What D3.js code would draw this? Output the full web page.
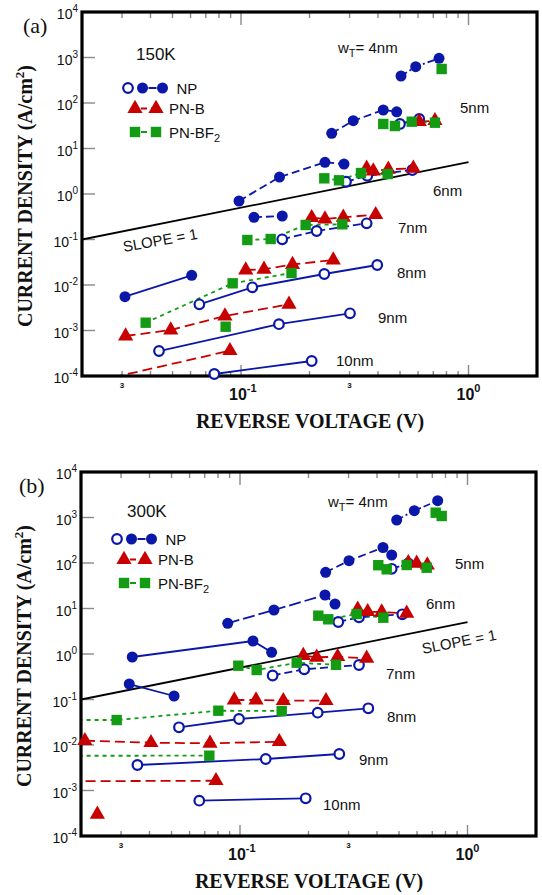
<!DOCTYPE html>
<html>
<head>
<meta charset="utf-8">
<script src="https://cdn.jsdelivr.net/npm/d3@7"></script>
<style>
  body { margin: 0; background: #fff; }
  svg { display: block; }
</style>
</head>
<body>
<script>
// ---------------- data ----------------
// Reverse voltage (V) vs current density (A/cm^2), grouped by tunnel width wT.
const xMajorTicks = [0.1, 1];
const xMinorTicks = [0.03, 0.04, 0.05, 0.06, 0.07, 0.08, 0.09, 0.2, 0.3, 0.4, 0.5, 0.6, 0.7, 0.8, 0.9];
const xSmallLabels = [0.03, 0.3];
const yExponents = [-4, -3, -2, -1, 0, 1, 2, 3, 4];
const gapLabels = ["4nm", "5nm", "6nm", "7nm", "8nm", "9nm", "10nm"];
const seriesNames = ["NP", "PN-B", "PN-BF"];
const slopeLine = [[0.02, 0.1], [1, 5]];

// panel (a): 150K
const npA = [
  { open: false, dash: "dashdot", pts: [[0.505, 392], [0.586, 628], [0.742, 960]] },
  { open: false, dash: "dash", pts: [[0.2504, 21.6], [0.3114, 40.8], [0.422, 70.2], [0.4834, 64.1]] },
  { open: true, dash: "dash", pts: [[0.4996, 34.6], [0.6074, 44.5]] },
  { open: false, dash: "dash", pts: [[0.098, 0.702], [0.1476, 2.36], [0.2339, 4.97], [0.2836, 4.56]] },
  { open: true, dash: "dash", pts: [[0.2894, 1.86], [0.359, 2.52], [0.566, 3.37]] },
  { open: false, dash: "dash", pts: [[0.114, 0.3075], [0.1518, 0.3285]] },
  { open: true, dash: "dash", pts: [[0.1518, 0.101], [0.215, 0.1537], [0.3567, 0.227]] },
  { open: false, dash: "solid", pts: [[0.0309, 0.00553], [0.0607, 0.01633]] },
  { open: true, dash: "solid", pts: [[0.0656, 0.003765], [0.1121, 0.0089], [0.2323, 0.01745], [0.397, 0.0275]] },
  { open: true, dash: "solid", pts: [[0.0436, 0.000354], [0.1468, 0.001376], [0.3013, 0.002388]] },
  { open: true, dash: "solid", pts: [[0.0763, 0.0001107], [0.2045, 0.0002136]] }
];
const pnbA = [
  [[0.6074, 38.8], [0.712, 40.8]],
  [[0.3567, 3.67], [0.3814, 3.20], [0.444, 3.49], [0.5721, 3.67]],
  [[0.2045, 0.3013], [0.2339, 0.2821], [0.2816, 0.3075], [0.3908, 0.3509]],
  [[0.1049, 0.02137], [0.1262, 0.02214], [0.1684, 0.0282], [0.2544, 0.0354]],
  [[0.0311, 0.000757], [0.0491, 0.001026], [0.085, 0.002083], [0.1625, 0.003765]],
  [[0.0204, 0.0000667], [0.0894, 0.00036]]
];
const bf2A = [
  [[0.762, 559]],
  [[0.422, 34.6], [0.475, 31.2], [0.5627, 38.8], [0.712, 36.9]],
  [[0.2323, 2.21], [0.2696, 2.00], [0.3368, 2.89], [0.4413, 2.75]],
  [[0.1066, 0.0975], [0.135, 0.1026], [0.1924, 0.2084], [0.2787, 0.2159]],
  [[0.0381, 0.001484], [0.0919, 0.0109], [0.1667, 0.01835]],
  [[0.0856, 0.001212]]
];

// panel (b): 300K
const npB = [
  { open: false, dash: "dashdot", pts: [[0.4884, 881], [0.5836, 1411], [0.7395, 2340]] },
  { open: false, dash: "dash", pts: [[0.2379, 62.5], [0.3013, 112.3], [0.4251, 219], [0.4642, 150]] },
  { open: true, dash: "dash", pts: [[0.4642, 74.6], [0.5492, 98.5]] },
  { open: false, dash: "longdash", pts: [[0.0883, 4.73], [0.141, 9.27], [0.2363, 19.8], [0.2616, 12.56]] },
  { open: true, dash: "dash", pts: [[0.2704, 5.05], [0.3334, 6.41], [0.5168, 7.46]] },
  { open: false, dash: "solid", pts: [[0.0336, 0.859], [0.114, 1.93], [0.1377, 1.09]] },
  { open: false, dash: "solid", pts: [[0.0326, 0.219], [0.0513, 0.1194]] },
  { open: true, dash: "dash", pts: [[0.1391, 0.337], [0.1916, 0.461], [0.3334, 0.573]] },
  { open: true, dash: "solid", pts: [[0.0539, 0.0245], [0.099, 0.0373], [0.2195, 0.0513], [0.3664, 0.0641]] },
  { open: true, dash: "solid", pts: [[0.0354, 0.00363], [0.1297, 0.00492], [0.2732, 0.00634]] },
  { open: true, dash: "solid", pts: [[0.0662, 0.000597], [0.1944, 0.000674]] }
];
const pnbB = [
  [[0.5492, 101.5], [0.5977, 98.5], [0.6656, 90.4]],
  [[0.3291, 9.6], [0.3641, 8.5], [0.4196, 8.38], [0.5404, 7.84]],
  [[0.1897, 0.927], [0.2173, 0.846], [0.2687, 0.872], [0.3603, 0.804]],
  [[0.0944, 0.0975], [0.1176, 0.0975], [0.155, 0.0941], [0.2387, 0.0941]],
  [[0.0208, 0.01243], [0.0406, 0.01123], [0.0738, 0.0109], [0.1488, 0.01182]],
  [[0.018, 0.0016], [0.0784, 0.00164]],
  [[0.0236, 0.0003]]
];
const bf2B = [
  [[0.7247, 1275], [0.77, 1079]],
  [[0.4053, 89.4], [0.4413, 72.7], [0.5404, 90.4], [0.6616, 78.8]],
  [[0.2209, 6.95], [0.2443, 5.79], [0.3257, 7.57], [0.4264, 6.28]],
  [[0.0983, 0.553], [0.1184, 0.445], [0.1775, 0.644], [0.2642, 0.579]],
  [[0.018, 0.0354], [0.0287, 0.0354], [0.0803, 0.0567], [0.1525, 0.0559]],
  [[0.018, 0.0058], [0.0733, 0.00582]]
];

// ---------------- styling / layout ----------------
const BLUE = "#0b17a8", RED = "#c80000", GREEN = "#139b13";
const DASHES = { solid: null, dash: "8,4", longdash: "12,4", dashdot: "7,3,2,3", pnb: "10,5", bf2: "4,4" };
const SANS = "'Liberation Sans', Arial, sans-serif";
const SERIF = "'Liberation Serif', 'Times New Roman', serif";
const frame = { left: 82, right: 537, top: 12, bottom: 376 };
const xDomain = [0.02, 2], yDomain = [1e-4, 1e4];

const panels = [
  {
    id: "a", temp: "150K", dx: 0, dy: 0, np: npA, pnb: pnbA, bf2: bf2A,
    tag: [23, 33], tempPos: [136, 60], legend: [128, 88],
    gapPos: [[338, 53], [460, 113], [433, 196], [398, 233], [397, 278], [378, 323], [336, 366]],
    slopePos: [124, 252, -10]
  },
  {
    id: "b", temp: "300K", dx: -1, dy: 460, np: npB, pnb: pnbB, bf2: bf2B,
    tag: [20, 33], tempPos: [128, 57], legend: [118, 79],
    gapPos: [[329, 47], [456, 109], [427, 149], [387, 219], [388, 262], [360, 305], [324, 350]],
    slopePos: [424, 194, -11]
  }
];

const svg = d3.select("body").append("svg").attr("width", 542).attr("height", 895);

function drawMarker(sel, kind, open, cx, cy) {
  if (kind === "NP") {
    sel.append("circle").attr("cx", cx).attr("cy", cy)
      .attr("r", open ? 4.8 : 5.5)
      .attr("fill", open ? "#fff" : BLUE)
      .attr("stroke", open ? BLUE : "none")
      .attr("stroke-width", open ? 2.2 : 0);
  } else if (kind === "PN-B") {
    sel.append("path").attr("d", d3.symbol(d3.symbolTriangle, 100)())
      .attr("transform", `translate(${cx},${cy})`).attr("fill", RED);
  } else {
    sel.append("rect").attr("x", cx - 5.2).attr("y", cy - 5.2)
      .attr("width", 10.4).attr("height", 10.4).attr("fill", GREEN);
  }
}

function drawPanel(p) {
  const g = svg.append("g").attr("transform", `translate(${p.dx},${p.dy})`);
  const x = d3.scaleLog().domain(xDomain).range([frame.left, frame.right]);
  const y = d3.scaleLog().domain(yDomain).range([frame.bottom, frame.top]);
  const inDomain = d => d[0] >= xDomain[0] && d[0] <= xDomain[1] && d[1] >= yDomain[0] && d[1] <= yDomain[1];

  const clipId = "clip-" + p.id;
  g.append("clipPath").attr("id", clipId).append("rect")
    .attr("x", frame.left).attr("y", frame.top)
    .attr("width", frame.right - frame.left).attr("height", frame.bottom - frame.top);

  // inner ticks
  const ticks = g.append("g").attr("stroke", "#8a8a8a").attr("stroke-width", 1.4);
  yExponents.slice(1, -1).forEach(e => {
    ticks.append("line").attr("x1", frame.left).attr("x2", frame.left + 13)
      .attr("y1", y(Math.pow(10, e))).attr("y2", y(Math.pow(10, e)));
  });
  xMinorTicks.forEach(v => {
    ticks.append("line").attr("x1", x(v)).attr("x2", x(v)).attr("y1", frame.top).attr("y2", frame.top + 6);
    ticks.append("line").attr("x1", x(v)).attr("x2", x(v)).attr("y1", frame.bottom).attr("y2", frame.bottom - 5);
  });
  xMajorTicks.forEach(v => {
    ticks.append("line").attr("x1", x(v)).attr("x2", x(v)).attr("y1", frame.top).attr("y2", frame.top + 13);
    ticks.append("line").attr("x1", x(v)).attr("x2", x(v)).attr("y1", frame.bottom).attr("y2", frame.bottom - 11);
  });

  const line = d3.line().x(d => x(d[0])).y(d => y(d[1]));
  const lines = g.append("g").attr("clip-path", `url(#${clipId})`).attr("fill", "none");

  // slope = 1 reference
  lines.append("path").attr("d", line(slopeLine)).attr("stroke", "#000").attr("stroke-width", 1.8);

  p.np.forEach(s => {
    if (s.pts.length > 1)
      lines.append("path").attr("d", line(s.pts)).attr("stroke", BLUE).attr("stroke-width", 1.8)
        .attr("stroke-dasharray", DASHES[s.dash]);
  });
  p.pnb.forEach(s => {
    if (s.length > 1)
      lines.append("path").attr("d", line(s)).attr("stroke", RED).attr("stroke-width", 1.8)
        .attr("stroke-dasharray", DASHES.pnb);
  });
  p.bf2.forEach(s => {
    if (s.length > 1)
      lines.append("path").attr("d", line(s)).attr("stroke", GREEN).attr("stroke-width", 1.8)
        .attr("stroke-dasharray", DASHES.bf2);
  });

  // frame
  g.append("rect").attr("x", frame.left).attr("y", frame.top)
    .attr("width", frame.right - frame.left).attr("height", frame.bottom - frame.top)
    .attr("fill", "none").attr("stroke", "#000").attr("stroke-width", 3.2);

  // markers
  const marks = g.append("g");
  p.np.forEach(s => s.pts.filter(inDomain).forEach(d => drawMarker(marks, "NP", s.open, x(d[0]), y(d[1]))));
  p.pnb.forEach(s => s.filter(inDomain).forEach(d => drawMarker(marks, "PN-B", false, x(d[0]), y(d[1]))));
  p.bf2.forEach(s => s.filter(inDomain).forEach(d => drawMarker(marks, "PN-BF", false, x(d[0]), y(d[1]))));

  // y tick labels
  yExponents.forEach(e => {
    const t = g.append("text").attr("x", frame.left - 4).attr("y", y(Math.pow(10, e)) + 7)
      .attr("text-anchor", "end").attr("font-family", SANS).attr("font-size", 14).attr("fill", "#111");
    t.append("tspan").text("10");
    t.append("tspan").attr("dy", -7).attr("font-size", 10).text(String(e));
  });

  // x tick labels
  xMajorTicks.forEach(v => {
    const e = Math.round(Math.log10(v));
    const t = g.append("text").attr("x", x(v) - 12).attr("y", frame.bottom + 24)
      .attr("font-family", SANS).attr("font-weight", "bold").attr("font-size", 16).attr("fill", "#111");
    t.append("tspan").text("10");
    t.append("tspan").attr("dy", -8).attr("font-size", 11).text(String(e));
  });
  xSmallLabels.forEach(v => {
    g.append("text").attr("x", x(v)).attr("y", frame.bottom + 12).attr("text-anchor", "middle")
      .attr("font-family", SANS).attr("font-weight", "bold").attr("font-size", 8).attr("fill", "#111")
      .text(String(v).slice(-1));
  });

  // axis titles
  g.append("text").attr("x", 310).attr("y", frame.bottom + 52).attr("text-anchor", "middle")
    .attr("font-family", SERIF).attr("font-weight", "bold").attr("font-size", 20).attr("fill", "#111")
    .text("REVERSE VOLTAGE (V)");
  const yt = g.append("text").attr("transform", "translate(32,196) rotate(-90)").attr("text-anchor", "middle")
    .attr("font-family", SERIF).attr("font-weight", "bold").attr("font-size", 20).attr("fill", "#111");
  yt.append("tspan").text("CURRENT DENSITY (A/cm");
  yt.append("tspan").attr("dy", -8).attr("font-size", 13).text("2");
  yt.append("tspan").attr("dy", 8).text(")");

  // panel tag and temperature
  g.append("text").attr("x", p.tag[0]).attr("y", p.tag[1]).attr("font-family", SERIF)
    .attr("font-size", 22).attr("fill", "#111").text(`(${p.id})`);
  g.append("text").attr("x", p.tempPos[0]).attr("y", p.tempPos[1]).attr("font-family", SANS)
    .attr("font-size", 17).attr("fill", "#111").text(p.temp);

  // legend
  const [lx, ly] = p.legend;
  const lg = g.append("g");
  const rows = [
    { kind: "NP", color: BLUE, dash: DASHES.dash, y: ly },
    { kind: "PN-B", color: RED, dash: "6,4", y: ly + 20.5 },
    { kind: "PN-BF", color: GREEN, dash: "6,4", y: ly + 44 }
  ];
  rows.forEach((r, i) => {
    const a = r.kind === "NP" ? lx + 14.5 : lx + 7;
    const b = r.kind === "NP" ? lx + 34.5 : lx + 28;
    lg.append("line").attr("x1", a).attr("x2", b).attr("y1", r.y).attr("y2", r.y)
      .attr("stroke", r.color).attr("stroke-width", 1.8).attr("stroke-dasharray", r.dash)
      .attr("stroke-dashoffset", -6);
    if (r.kind === "NP") drawMarker(lg, "NP", true, lx, r.y);
    drawMarker(lg, r.kind, false, a, r.y);
    drawMarker(lg, r.kind, false, b, r.y);
    const t = lg.append("text").attr("x", r.kind === "NP" ? lx + 48.5 : lx + 41).attr("y", r.y + 5.5)
      .attr("font-family", SANS).attr("font-size", 15).attr("fill", "#111");
    t.append("tspan").text(seriesNames[i]);
    if (r.kind === "PN-BF") t.append("tspan").attr("dy", 4).attr("font-size", 11).text("2");
  });

  // tunnel-width annotations
  gapLabels.forEach((lab, i) => {
    const [tx, ty] = p.gapPos[i];
    const t = g.append("text").attr("x", tx).attr("y", ty).attr("font-family", SANS)
      .attr("font-size", 15).attr("fill", "#111");
    if (i === 0) {
      t.append("tspan").text("w");
      t.append("tspan").attr("dy", 4).attr("font-size", 11).text("T");
      t.append("tspan").attr("dy", -4).text("= " + lab);
    } else {
      t.text(lab);
    }
  });

  // slope annotation
  const [sx, sy, ang] = p.slopePos;
  g.append("text").attr("transform", `translate(${sx},${sy}) rotate(${ang})`)
    .attr("font-family", SANS).attr("font-size", 15).attr("fill", "#111").text("SLOPE = 1");
}

panels.forEach(drawPanel);
</script>
</body>
</html>
